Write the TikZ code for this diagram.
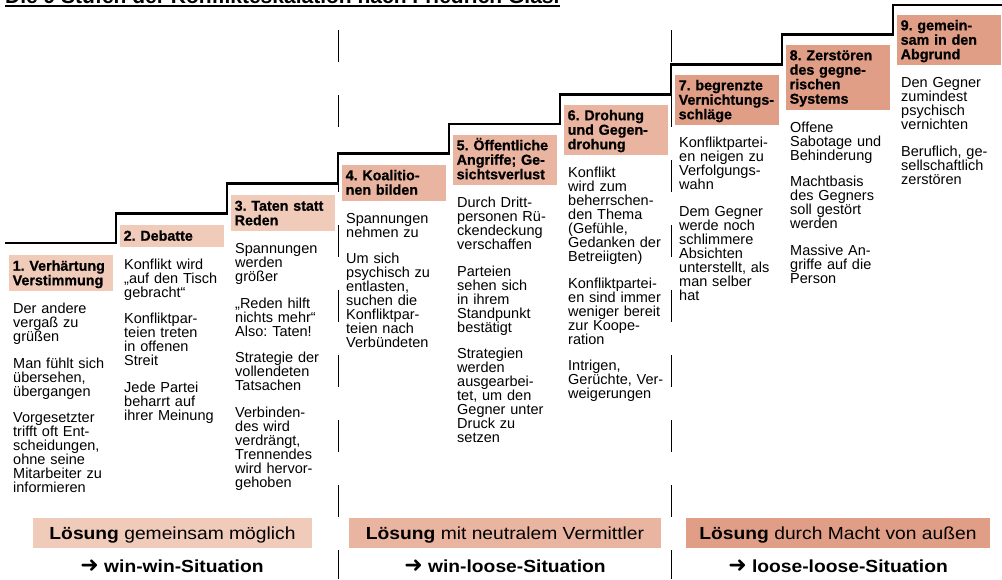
\documentclass[tikz,border=0pt]{standalone}
\usepackage{fontspec}
\setmainfont{Liberation Sans}
\newfontfamily\arrowfont{DejaVu Sans}
\newfontfamily\barfont[FakeStretch=1.1]{Liberation Sans}
\newfontfamily\headfont[FakeBold=0.8]{Liberation Sans Bold}
\usetikzlibrary{positioning}

\definecolor{lightstage}{RGB}{240,203,186}
\definecolor{midstage}{RGB}{233,180,160}
\definecolor{darkstage}{RGB}{225,158,134}

\frenchspacing
\lineskiplimit=-20pt
\newcommand\hdtop{\vrule width 0pt height 12.5pt depth 0pt}
\newcommand\hdbot{\vrule width 0pt height 0pt depth 3.2pt}
\newcommand\txtop{\vrule width 0pt height 11pt depth 0pt}
\newcommand\goarrow{{\arrowfont\fontsize{22}{20}\selectfont ➜}}

\tikzset{
  stair/.style={line width=2.8pt, line join=miter},
  divider/.style={line width=0.9pt, dash pattern=on 32pt off 33pt},
  stagehead/.style={anchor=north west, text width=97pt, inner xsep=3.5pt, inner ysep=3pt, align=left,
    font=\headfont\fontsize{14.3}{14.5}\selectfont},
  stagetext/.style={anchor=north west, text width=104pt, inner xsep=4pt, inner ysep=0pt, align=left,
    font=\fontsize{14.5}{14}\selectfont},
  solbar/.style={minimum height=30pt, inner sep=0pt, text height=13pt, text depth=0pt,
    font=\barfont\fontsize{17.5}{20}\selectfont},
  outcome/.style={inner sep=0pt, anchor=base, font=\barfont\bfseries\fontsize{17.5}{20}\selectfont}
}

\begin{document}
\begin{tikzpicture}[x=1pt,y=-1pt]
\useasboundingbox (0,0) rectangle (1002,579);
\clip (0,0) rectangle (1002,579);
\fill[white] (0,0) rectangle (1002,579);

% Title (cut at the top)
\node[anchor=base west, inner sep=0pt, font=\bfseries\fontsize{21}{24}\selectfont] (title) at (5,3.5) {Die 9 Stufen der Konflikteskalation nach Friedrich Glasl};
\draw[line width=1.6pt] ([yshift=-2.4pt]title.base west) -- ([yshift=-2.4pt]title.base east);

% Dividers
\draw[divider] (338,30) -- (338,579);
\draw[divider] (671,30) -- (671,579);

% Staircase
\draw[stair] (5,243) -| (116,213.3) -| (227,183.5) -| (338,153.8) -| (449,124) -| (560,94.3) -| (671,64.5) -| (782,34.8) -| (893,5) -- (1002,5);

% Stage headings
\node[stagehead, fill=lightstage] (h1) at (9,255) {\hdtop 1. Verhärtung\\Verstimmung\hdbot};
\node[stagehead, fill=lightstage] (h2) at (120,225) {\hdtop 2. Debatte\hdbot};
\node[stagehead, fill=lightstage] (h3) at (231,195) {\hdtop 3. Taten statt\\Reden\hdbot};
\node[stagehead, fill=midstage] (h4) at (342,164.5) {\hdtop 4. Koalitio-\\nen bilden\hdbot};
\node[stagehead, fill=midstage] (h5) at (453,134.5) {\hdtop 5. Öffentliche\\Angriffe; Ge-\\sichtsverlust\hdbot};
\node[stagehead, fill=midstage] (h6) at (564,104.5) {\hdtop 6. Drohung\\und Gegen-\\drohung\hdbot};
\node[stagehead, fill=darkstage] (h7) at (675,74.5) {\hdtop 7. begrenzte\\Vernichtungs-\\schläge\hdbot};
\node[stagehead, fill=darkstage] (h8) at (786,44.5) {\hdtop 8. Zerstören\\des gegne-\\rischen\\Systems\hdbot};
\node[stagehead, fill=darkstage] (h9) at (897,14.5) {\hdtop 9. gemein-\\sam in den\\Abgrund\hdbot};

% Stage texts
\node[below=11pt of h1.south west, stagetext] (t1) {\txtop Der andere\\vergaß zu\\grüßen\\[12.5pt]Man fühlt sich\\übersehen,\\übergangen\\[12.5pt]Vorgesetzter\\trifft oft Ent-\\scheidungen,\\ohne seine\\Mitarbeiter zu\\informieren};
\node[below=11pt of h2.south west, stagetext] (t2) {\txtop Konflikt wird\\„auf den Tisch\\gebracht“\\[12.5pt]Konfliktpar-\\teien treten\\in offenen\\Streit\\[12.5pt]Jede Partei\\beharrt auf\\ihrer Meinung};
\node[below=11pt of h3.south west, stagetext] (t3) {\txtop Spannungen\\werden\\größer\\[12.5pt]„Reden hilft\\nichts mehr“\\Also: Taten!\\[12.5pt]Strategie der\\vollendeten\\Tatsachen\\[12.5pt]Verbinden-\\des wird\\verdrängt,\\Trennendes\\wird hervor-\\gehoben};
\node[below=11pt of h4.south west, stagetext] (t4) {\txtop Spannungen\\nehmen zu\\[12.5pt]Um sich\\psychisch zu\\entlasten,\\suchen die\\Konfliktpar-\\teien nach\\Verbündeten};
\node[below=11pt of h5.south west, stagetext] (t5) {\txtop Durch Dritt-\\personen Rü-\\ckendeckung\\verschaffen\\[12.5pt]Parteien\\sehen sich\\in ihrem\\Standpunkt\\bestätigt\\[12.5pt]Strategien\\werden\\ausgearbei-\\tet, um den\\Gegner unter\\Druck zu\\setzen};
\node[below=11pt of h6.south west, stagetext] (t6) {\txtop Konflikt\\wird zum\\beherrschen-\\den Thema\\(Gefühle,\\Gedanken der\\Betreiigten)\\[12.5pt]Konfliktpartei-\\en sind immer\\weniger bereit\\zur Koope-\\ration\\[12.5pt]Intrigen,\\Gerüchte, Ver-\\weigerungen};
\node[below=11pt of h7.south west, stagetext] (t7) {\txtop Konfliktpartei-\\en neigen zu\\Verfolgungs-\\wahn\\[12.5pt]Dem Gegner\\werde noch\\schlimmere\\Absichten\\unterstellt, als\\man selber\\hat};
\node[below=11pt of h8.south west, stagetext] (t8) {\txtop Offene\\Sabotage und\\Behinderung\\[12.5pt]Machtbasis\\des Gegners\\soll gestört\\werden\\[12.5pt]Massive An-\\griffe auf die\\Person};
\node[below=11pt of h9.south west, stagetext] (t9) {\txtop Den Gegner\\zumindest\\psychisch\\vernichten\\[12.5pt]Beruflich, ge-\\sellschaftlich\\zerstören};

% Solutions
\node[solbar, fill=lightstage, minimum width=279pt] (sol1) at (172.5,533) {\textbf{Lösung} gemeinsam möglich};
\node[solbar, fill=midstage, minimum width=312pt] (sol2) at (505,533) {\textbf{Lösung} mit neutralem Vermittler};
\node[solbar, fill=darkstage, minimum width=304pt] (sol3) at (838,533) {\textbf{Lösung} durch Macht von außen};

\node[outcome] (res1) at (172,572) {\goarrow\ win-win-Situation};
\node[outcome] (res2) at (505,572) {\goarrow\ win-loose-Situation};
\node[outcome] (res3) at (838,572) {\goarrow\ loose-loose-Situation};
\end{tikzpicture}
\end{document}
